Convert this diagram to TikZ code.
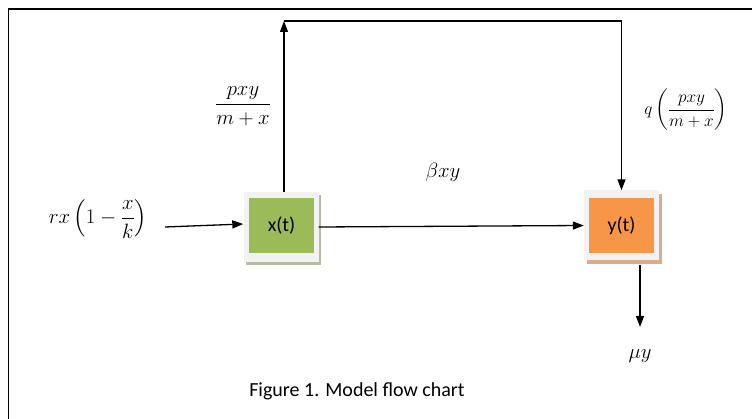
\documentclass[tikz,border=0pt]{standalone}
\usepackage{amsmath}
\usepackage{fontspec}
\setmainfont{Carlito}
\usetikzlibrary{arrows.meta}
\definecolor{greenbox}{HTML}{9BBB59}
\definecolor{orangebox}{HTML}{F79646}
\definecolor{framegray}{HTML}{F2F2F2}
\definecolor{greenshadow}{HTML}{B4BCA6}
\definecolor{orangeshadow}{HTML}{D6AD8E}
\tikzset{
  outerbox/.style={draw=none, fill=framegray, minimum width=75pt, minimum height=70pt, inner sep=0pt},
  shadowbox/.style={draw=none, minimum width=75pt, minimum height=70pt, inner sep=0pt},
  innerbox/.style={draw=none, minimum width=65pt, minimum height=55pt, inner sep=0pt, font=\fontsize{20}{24}\selectfont},
  flow/.style={line width=1.3pt, -{Triangle[length=11pt,width=8pt]}},
  mathlbl/.style={font=\fontsize{21}{25}\selectfont, inner sep=0pt},
}
\begin{document}
\begin{tikzpicture}[x=1pt,y=-1pt]
\useasboundingbox (0,0) rectangle (752,419);
\clip (0,0) rectangle (752,419);
% outer frame
\draw[line width=1.6pt] (8.5,430) -- (8.5,9) -- (760,9);
% x(t) box
\node[shadowbox, fill=greenshadow] (xtsh) at (283.5,230) {};
\node[outerbox] (xt) at (281,227) {};
\node[innerbox, fill=greenbox] (xtin) at (281.5,225.5) {x(t)};
% y(t) box
\node[shadowbox, fill=orangeshadow] (ytsh) at (624,229.5) {};
\node[outerbox] (yt) at (621.5,225.5) {};
\node[innerbox, fill=orangebox] (ytin) at (621.5,225.5) {y(t)};
% coordinates
\coordinate (up) at (284,21);
\coordinate (corner) at (621.5,21);
\coordinate (in) at (165,227);
\coordinate (muend) at (640,327);
% connectors
\draw[flow] (xt.north -| up) -- (up);
\draw[flow] (up) -- (corner) -- (yt.north);
\draw[flow] (xt.east) -- (yt.west);
\draw[flow] (in) -- ([yshift=3pt]xt.west);
\draw[flow] (muend |- ytsh.south) -- (muend);
% labels
\node[mathlbl] (l1) at (243,106) {$\dfrac{pxy\rule[-4pt]{0pt}{4pt}}{\rule{0pt}{17pt}m+x}$};
\node[mathlbl, font=\fontsize{19}{23}\selectfont] (l2) at (686,110) {$q\left(\dfrac{pxy}{m+x}\right)$};
\node[mathlbl, font=\fontsize{22}{26}\selectfont] (l3) at (443,172) {$\beta xy$};
\node[mathlbl] (l4) at (98,219) {$rx\left(1-\dfrac{x}{k}\right)$};
\node[mathlbl, font=\fontsize{22}{26}\selectfont] (l5) at (640,356) {$\mu y$};
\node[font=\fontsize{20}{24}\selectfont] (cap) at (357,391) {Figure 1. Model flow chart};
\end{tikzpicture}
\end{document}
